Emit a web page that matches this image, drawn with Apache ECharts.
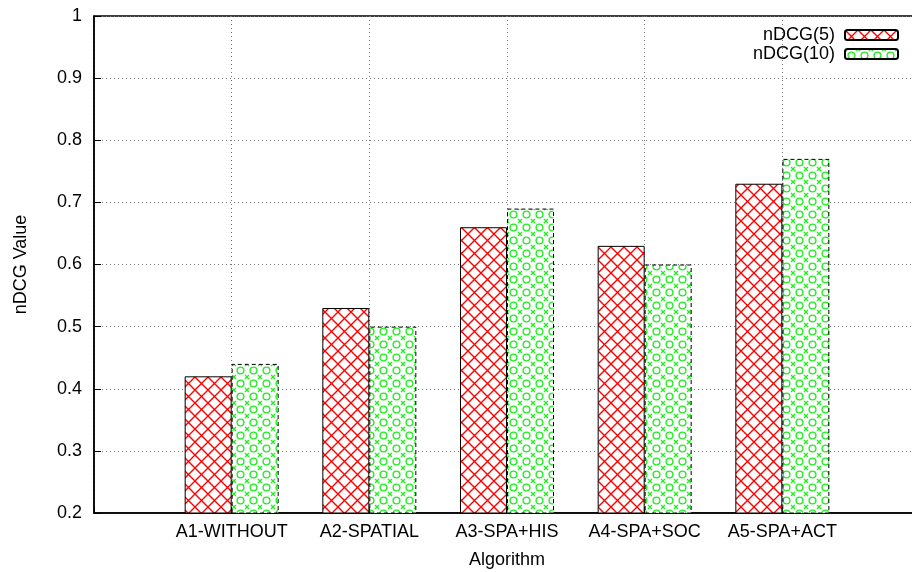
<!DOCTYPE html>
<html><head><meta charset="utf-8">
<script src="https://cdn.jsdelivr.net/npm/echarts@6/dist/echarts.min.js"></script>
<style>html,body{margin:0;padding:0;background:#fff}#c{width:912px;height:572px}</style>
</head><body><div id="c"></div>
<script>
const categories = ['A1-WITHOUT', 'A2-SPATIAL', 'A3-SPA+HIS', 'A4-SPA+SOC', 'A5-SPA+ACT'];
const seriesNames = ['nDCG(5)', 'nDCG(10)'];
const ndcg5 = [0.42, 0.53, 0.66, 0.63, 0.73];
const ndcg10 = [0.44, 0.50, 0.69, 0.60, 0.77];
const yTicks = { min: 0.2, max: 1, interval: 0.1 };

function redTile() {
  const s = 13, c = document.createElement('canvas');
  c.width = s; c.height = s;
  const g = c.getContext('2d');
  g.fillStyle = '#fff'; g.fillRect(0, 0, s, s);
  g.strokeStyle = '#ff0000'; g.lineWidth = 1.4;
  g.beginPath();
  g.moveTo(-1, -1); g.lineTo(s + 1, s + 1);
  g.moveTo(s + 1, -1); g.lineTo(-1, s + 1);
  g.stroke();
  return c;
}
function greenTile() {
  const s = 13, c = document.createElement('canvas');
  c.width = s; c.height = s;
  const g = c.getContext('2d');
  g.fillStyle = '#fff'; g.fillRect(0, 0, s, s);
  g.strokeStyle = '#22ee22'; g.lineWidth = 1.4;
  g.beginPath(); g.arc(6.5, 6.5, 3.4, 0, Math.PI * 2); g.stroke();
  const corners = [[0, 0], [s, 0], [0, s], [s, s]];
  g.beginPath();
  corners.forEach(([x, y]) => {
    g.moveTo(x - 2, y - 2); g.lineTo(x + 2, y + 2);
    g.moveTo(x + 2, y - 2); g.lineTo(x - 2, y + 2);
  });
  g.stroke();
  return c;
}

const font = 'Liberation Sans, Arial, Helvetica, sans-serif';
const chart = echarts.init(document.getElementById('c'), null, { renderer: 'canvas' });
chart.setOption({
  animation: false,
  backgroundColor: '#fff',
  grid: { left: 94, top: 16, width: 826, bottom: 59, show: true, borderColor: '#000', borderWidth: 1.5,
    containLabel: false, outerBoundsMode: 'none' },
  legend: {
    orient: 'vertical', right: 13, top: 26, align: 'right',
    itemWidth: 53, itemHeight: 10, itemGap: 1, padding: 0,
    textStyle: { fontSize: 18, fontFamily: font, color: '#000', padding: [0, 5, 0, 0] },
    data: seriesNames
  },
  xAxis: {
    type: 'value', min: -1, max: 5, interval: 1,
    name: 'Algorithm', nameLocation: 'middle', nameGap: 38,
    nameTextStyle: { fontSize: 18, fontFamily: font, color: '#000' },
    axisLine: { show: true, onZero: false, lineStyle: { color: '#000', width: 1.5 } },
    axisTick: { show: true, inside: true, length: 6, lineStyle: { color: '#000' } },
    axisLabel: { fontSize: 18, fontFamily: font, color: '#000', margin: 10,
      formatter: v => categories[v] !== undefined ? categories[v] : '' },
    splitLine: { show: true, lineStyle: { color: '#777', type: [1, 3], width: 1 } }
  },
  yAxis: {
    type: 'value', min: yTicks.min, max: yTicks.max, interval: yTicks.interval,
    name: 'nDCG Value', nameLocation: 'middle', nameGap: 64,
    nameTextStyle: { fontSize: 18, fontFamily: font, color: '#000' },
    axisLine: { show: true, onZero: false, lineStyle: { color: '#000', width: 1.5 } },
    axisTick: { show: true, inside: true, length: 7, lineStyle: { color: '#000' } },
    axisLabel: { fontSize: 18, fontFamily: font, color: '#000', margin: 12 },
    splitLine: { show: true, lineStyle: { color: '#777', type: [1, 3], width: 1 } }
  },
  series: [
    {
      name: seriesNames[0], type: 'bar', barWidth: 47, barGap: '0%',
      data: ndcg5.map((v, i) => [i, v]),
      itemStyle: { color: { image: redTile(), repeat: 'repeat' }, borderColor: '#000', borderWidth: 1 }
    },
    {
      name: seriesNames[1], type: 'bar', barWidth: 47, barGap: '0%',
      data: ndcg10.map((v, i) => [i, v]),
      itemStyle: { color: { image: greenTile(), repeat: 'repeat' }, borderColor: '#000', borderWidth: 1, borderType: [4, 3] }
    }
  ]
});
</script></body></html>
